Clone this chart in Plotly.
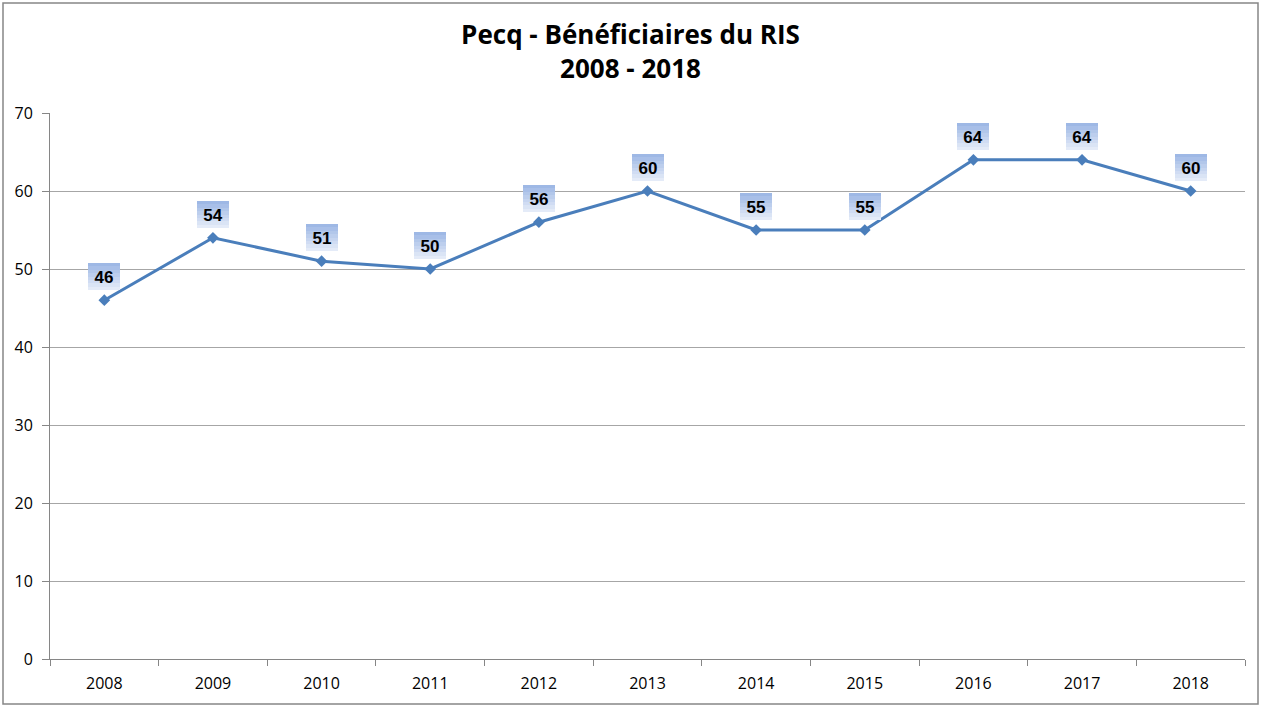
import plotly.graph_objects as go

years = ["2008", "2009", "2010", "2011", "2012", "2013", "2014", "2015", "2016", "2017", "2018"]
beneficiaires = [46, 54, 51, 50, 56, 60, 55, 55, 64, 64, 60]
y_ticks = [0, 10, 20, 30, 40, 50, 60, 70]

line_color = "#4a7ebb"

fig = go.Figure()
fig.add_trace(go.Scatter(
    x=years, y=beneficiaires, mode="lines+markers",
    line=dict(color=line_color, width=3),
    marker=dict(symbol="diamond", size=9, color=line_color),
    hoverinfo="x+y", showlegend=False,
))

# data labels: gradient-like boxes (light at bottom, darker blue at top)
box_w, box_h, top_shift = 32, 27, 37
light = (228, 235, 248)
dark = (158, 184, 229)
n_bands = 8
for i, v in enumerate(beneficiaires):
    for k in range(n_bands):
        t = k / (n_bands - 1)
        c = tuple(round(light[j] + (dark[j] - light[j]) * t) for j in range(3))
        h = box_h * (n_bands - k) / n_bands
        fig.add_annotation(
            x=i, y=v, xref="x", yref="y", text="",
            showarrow=False, yanchor="top", yshift=top_shift,
            width=box_w, height=h, borderpad=0, borderwidth=0,
            bgcolor="rgb(%d,%d,%d)" % c,
        )
    fig.add_annotation(
        x=i, y=v, xref="x", yref="y", text="<b>%d</b>" % v,
        showarrow=False, yanchor="top", yshift=top_shift,
        width=box_w, height=box_h, borderpad=0, valign="middle",
        font=dict(family="Liberation Sans, Arial", size=17, color="black"),
    )

fig.update_layout(
    width=1261, height=706,
    margin=dict(l=50, r=16, t=113, b=47),
    paper_bgcolor="white", plot_bgcolor="white",
    title=dict(
        text="<b>Pecq - Bénéficiaires du RIS<br>2008 - 2018</b>",
        x=0.5, xanchor="center", xref="container",
        y=0.937, yanchor="top", yref="container",
        font=dict(family="Open Sans, Liberation Sans", size=26, color="black"),
    ),
    xaxis=dict(
        type="category", tickmode="array", tickvals=years, ticktext=years,
        showline=True, linecolor="#868686", linewidth=1,
        ticks="outside", tickson="boundaries", ticklen=6, tickcolor="#868686",
        showgrid=False, ticklabelstandoff=10,
        tickfont=dict(family="Open Sans, Liberation Sans", size=16, color="black"),
        range=[-0.5, 10.5],
    ),
    yaxis=dict(
        range=[0, 70], tickvals=y_ticks,
        showline=True, linecolor="#868686", linewidth=1,
        ticks="outside", ticklen=7, tickcolor="#868686",
        showgrid=True, gridcolor="#a6a6a6", gridwidth=1,
        zeroline=False, ticklabelstandoff=6,
        tickfont=dict(family="Open Sans, Liberation Sans", size=16, color="black"),
    ),
)

fig.add_shape(type="rect", xref="paper", yref="paper",
              x0=(3 - 50) / 1195, x1=(1258 - 50) / 1195,
              y0=-(704 - 659) / 546, y1=1 + (113 - 3) / 546,
              line=dict(color="#868686", width=1.5), fillcolor="rgba(0,0,0,0)", layer="below")

fig.write_html("out.html", config={"displayModeBar": False},
               post_script="document.body.style.margin='0';")
